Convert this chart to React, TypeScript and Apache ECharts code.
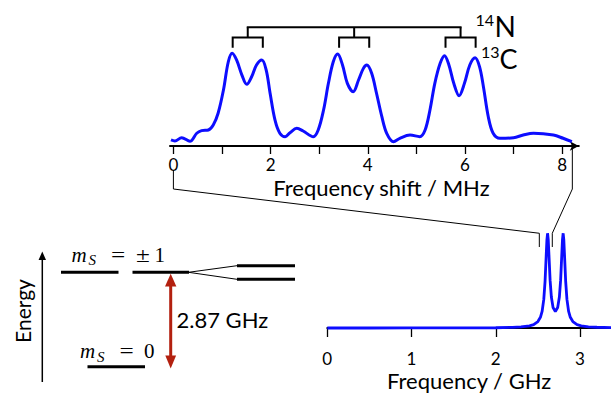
import React, { useEffect, useRef } from 'react';
import * as echarts from 'echarts';

// ---- Top panel: hyperfine-resolved spectrum (frequency shift, MHz) ----
const shiftMHz = [-0.05, 0.03, 0.17, 0.34, 0.48, 0.58, 0.72, 0.82, 0.92, 1.03, 1.13, 1.21, 1.30, 1.41, 1.51, 1.61, 1.71, 1.82, 1.91, 1.99, 2.09, 2.19, 2.30, 2.40, 2.54, 2.67, 2.88, 2.98, 3.09, 3.19, 3.29, 3.38, 3.48, 3.58, 3.70, 3.81, 3.91, 3.98, 4.08, 4.18, 4.29, 4.39, 4.53, 4.66, 4.87, 5.07, 5.18, 5.28, 5.38, 5.49, 5.58, 5.67, 5.77, 5.88, 5.99, 6.10, 6.21, 6.30, 6.38, 6.48, 6.58, 6.72, 7.00, 7.20, 7.41, 7.82, 8.02, 8.20];
const shiftSignal = [0.065, 0.054, 0.089, 0.051, 0.137, 0.165, 0.172, 0.226, 0.352, 0.602, 0.906, 0.997, 0.925, 0.763, 0.663, 0.745, 0.871, 0.925, 0.817, 0.567, 0.280, 0.137, 0.100, 0.143, 0.190, 0.161, 0.100, 0.172, 0.387, 0.674, 0.906, 0.989, 0.871, 0.674, 0.584, 0.710, 0.835, 0.871, 0.782, 0.567, 0.315, 0.137, 0.046, 0.083, 0.118, 0.100, 0.172, 0.387, 0.674, 0.889, 0.971, 0.871, 0.674, 0.541, 0.674, 0.871, 0.949, 0.853, 0.638, 0.315, 0.137, 0.083, 0.089, 0.118, 0.137, 0.118, 0.083, 0.046];
const shiftTicks = [0, 1, 2, 3, 4, 5, 6, 7, 8];
const shiftTickLabels = [0, 2, 4, 6, 8];

// hyperfine brackets: 14N triplet centres and 13C half splitting (MHz)
const nitrogenCenters = [1.53, 3.72, 5.91];
const carbonHalfSplit = 0.31;
const bracketLevels = [1.276, 1.167, 1.057]; // top bar, sub bar, sub ends

// ---- Bottom panel: ODMR spectrum (frequency, GHz) ----
const freqGHz = [0, 0.5, 1.0, 1.5, 2.0, 2.2, 2.3, 2.4, 2.45, 2.5, 2.53, 2.55, 2.57, 2.585, 2.6, 2.607, 2.615, 2.623, 2.63, 2.645, 2.66, 2.68, 2.7075, 2.735, 2.755, 2.77, 2.785, 2.792, 2.8, 2.808, 2.815, 2.83, 2.845, 2.865, 2.885, 2.915, 2.965, 3.015, 3.1, 3.2, 3.37];
const odmrSignal = [0, 0, 0.001, 0.001, 0.003, 0.007, 0.012, 0.023, 0.036, 0.068, 0.113, 0.175, 0.302, 0.489, 0.791, 0.929, 1.0, 0.933, 0.798, 0.505, 0.327, 0.216, 0.175, 0.216, 0.327, 0.505, 0.798, 0.933, 1.0, 0.929, 0.791, 0.489, 0.302, 0.175, 0.113, 0.068, 0.036, 0.023, 0.013, 0.008, 0.004];
const freqTicks = [0, 1, 2, 3];

// zoom window linking the two panels
const zoomWindowMHz = [0, 8.21];
const zoomWindowGHz = [2.517, 2.671];

const BLUE = '#0d0dff';
const RED = '#b3200f';
const SANS = 'Lato';
const SERIF = 'Liberation Serif';

export default function App() {
  const ref = useRef<HTMLDivElement>(null);

  useEffect(() => {
    if (!ref.current) return;
    const chart = echarts.init(ref.current, undefined, { renderer: 'svg' });

    const option: any = {
      animation: false,
      backgroundColor: '#fff',
      grid: [
        { left: 170, top: 20, width: 408.8, height: 126 },
        { left: 327.3, top: 220, right: 0, height: 115.5 },
      ],
      xAxis: [
        {
          type: 'value', gridIndex: 0, min: -0.07, max: 8.343,
          axisLine: { show: true, symbol: ['none', 'arrow'], symbolSize: [7, 9], lineStyle: { color: '#000', width: 2 } },
          axisTick: { show: true, customValues: shiftTicks, length: 8, lineStyle: { color: '#000', width: 1.3 } },
          axisLabel: { customValues: shiftTickLabels, color: '#000', fontSize: 17, lineHeight: 14, fontFamily: SANS, margin: 11.5 },
          splitLine: { show: false },
          name: 'Frequency shift / MHz', nameLocation: 'middle', nameGap: 31,
          nameTextStyle: { color: '#000', fontSize: 22, lineHeight: 20, fontFamily: SANS, padding: [0, 0, 0, 14] },
        },
        {
          type: 'value', gridIndex: 1, min: 0, max: 3.368,
          axisLine: { show: true, lineStyle: { color: '#000', width: 2 } },
          axisTick: { show: true, customValues: freqTicks, length: 9, lineStyle: { color: '#000', width: 1.3 } },
          axisLabel: { customValues: freqTicks, color: '#000', fontSize: 17, lineHeight: 14, fontFamily: SANS, margin: 15.5 },
          splitLine: { show: false },
          name: 'Frequency / GHz', nameLocation: 'middle', nameGap: 35,
          nameTextStyle: { color: '#000', fontSize: 22, lineHeight: 20, fontFamily: SANS },
        },
      ],
      yAxis: [
        { type: 'value', gridIndex: 0, min: 0, max: 1.355, show: false },
        { type: 'value', gridIndex: 1, min: -0.079, max: 1.14, show: false },
      ],
      series: [
        {
          type: 'line', xAxisIndex: 0, yAxisIndex: 0,
          data: shiftMHz.map((x, i) => [x, shiftSignal[i]]),
          showSymbol: false, smooth: 0.35,
          lineStyle: { color: BLUE, width: 3 },
          silent: true,
        },
        {
          type: 'line', xAxisIndex: 1, yAxisIndex: 1,
          data: freqGHz.map((x, i) => [x, odmrSignal[i]]),
          showSymbol: false, smooth: false,
          lineStyle: { color: BLUE, width: 2.8 },
          silent: true,
        },
        {
          type: 'custom', xAxisIndex: 0, yAxisIndex: 0, silent: true, clip: false,
          data: nitrogenCenters.map((c) => [c]),
          renderItem: (params: any, api: any) => {
            const c = api.value(0);
            const [vTop, vSub, vEnd] = bracketLevels;
            const a = api.coord([c - carbonHalfSplit, vEnd]);
            const b = api.coord([c - carbonHalfSplit, vSub]);
            const d = api.coord([c + carbonHalfSplit, vSub]);
            const e = api.coord([c + carbonHalfSplit, vEnd]);
            const s0 = api.coord([c, vSub]);
            const s1 = api.coord([c, vTop]);
            const st = { stroke: '#000', lineWidth: 2, fill: null };
            const children: any[] = [
              { type: 'polyline', shape: { points: [a, b, d, e] }, style: st },
              { type: 'line', shape: { x1: s0[0], y1: s0[1], x2: s1[0], y2: s1[1] }, style: st },
            ];
            if (params.dataIndex === 0) {
              const l = api.coord([nitrogenCenters[0], vTop]);
              const r = api.coord([nitrogenCenters[nitrogenCenters.length - 1], vTop]);
              children.push({ type: 'line', shape: { x1: l[0] - 1, y1: l[1], x2: r[0] + 1, y2: r[1] }, style: st });
            }
            return { type: 'group', children };
          },
        },
      ],
    };
    chart.setOption(option);

    const tp0 = chart.convertToPixel({ xAxisIndex: 0, yAxisIndex: 0 }, [zoomWindowMHz[0], 0]) as number[];
    const tp1 = chart.convertToPixel({ xAxisIndex: 0, yAxisIndex: 0 }, [zoomWindowMHz[1], 0]) as number[];
    const bA0 = chart.convertToPixel({ xAxisIndex: 1, yAxisIndex: 1 }, [zoomWindowGHz[0], 1.0]) as number[];
    const bB0 = chart.convertToPixel({ xAxisIndex: 1, yAxisIndex: 1 }, [zoomWindowGHz[0], 0.855]) as number[];
    const bA1 = chart.convertToPixel({ xAxisIndex: 1, yAxisIndex: 1 }, [zoomWindowGHz[1], 1.0]) as number[];
    const bB1 = chart.convertToPixel({ xAxisIndex: 1, yAxisIndex: 1 }, [zoomWindowGHz[1], 0.855]) as number[];

    const thin = { stroke: '#000', lineWidth: 1, fill: null };
    const thick = { stroke: '#000', lineWidth: 3 };
    const mathText = (text: string, x: number, y: number, size: number, italic: boolean, sx = 1) => ({
      type: 'text', x, y, scaleX: sx,
      style: { text, fill: '#000', fontSize: size, lineHeight: size, fontFamily: SERIF, fontStyle: italic ? 'italic' : 'normal', align: 'left', verticalAlign: 'middle' },
    });
    const isoText = (text: string, x: number, y: number, size: number, align: string) => ({
      type: 'text', x, y,
      style: { text, fill: '#000', fontSize: size, lineHeight: size, fontFamily: SANS, align, verticalAlign: 'middle' },
    });

    const graphic: any[] = [
      // connectors between panels
      { type: 'polyline', shape: { points: [[tp0[0], 170], [tp0[0], 189], [bA0[0], bA0[1]], [bB0[0], bB0[1]]] }, style: thin },
      { type: 'polyline', shape: { points: [[tp1[0], tp1[1] + 3], [tp1[0], 189], [bA1[0], bA1[1]], [bB1[0], bB1[1]]] }, style: thin },
      // isotope labels
      isoText('14', 494, 19.9, 16, 'right'),
      isoText('N', 494.5, 25.6, 28, 'left'),
      isoText('13', 499.5, 51.4, 16, 'right'),
      isoText('C', 499.5, 58.7, 27, 'left'),
      // energy axis
      { type: 'line', shape: { x1: 42.3, y1: 382, x2: 42.3, y2: 258 }, style: { stroke: '#000', lineWidth: 1.5 } },
      { type: 'polygon', shape: { points: [[42.3, 251.5], [38.6, 260], [46, 260]] }, style: { fill: '#000' } },
      { type: 'text', x: 22, y: 311, rotation: Math.PI / 2, style: { text: 'Energy', fill: '#000', fontSize: 21, fontFamily: SANS, align: 'center', verticalAlign: 'middle' } },
      // levels
      { type: 'line', shape: { x1: 61, y1: 272.3, x2: 118.5, y2: 272.3 }, style: thick },
      { type: 'line', shape: { x1: 132.5, y1: 272.3, x2: 189, y2: 272.3 }, style: thick },
      { type: 'line', shape: { x1: 188.5, y1: 272.3, x2: 237, y2: 265.7 }, style: thin },
      { type: 'line', shape: { x1: 188.5, y1: 272.3, x2: 237, y2: 279.3 }, style: thin },
      { type: 'line', shape: { x1: 237, y1: 265.7, x2: 295, y2: 265.7 }, style: thick },
      { type: 'line', shape: { x1: 237, y1: 279.3, x2: 295, y2: 279.3 }, style: thick },
      { type: 'line', shape: { x1: 87.5, y1: 366.7, x2: 145, y2: 366.7 }, style: thick },
      // level labels
      mathText('m', 71.5, 254.6, 21, true),
      mathText('S', 88.5, 260, 15, true),
      mathText('=', 111, 254.6, 21, false, 1.2),
      mathText('±', 136, 254.6, 21, false, 1.2),
      mathText('1', 154.5, 254.6, 21, false),
      mathText('m', 80, 351.1, 21, true),
      mathText('S', 97, 356.5, 15, true),
      mathText('=', 119.5, 351.1, 21, false, 1.2),
      mathText('0', 144, 351.1, 21, false),
      // transition arrow
      { type: 'line', shape: { x1: 170.7, y1: 284, x2: 170.7, y2: 357 }, style: { stroke: RED, lineWidth: 3 } },
      { type: 'polygon', shape: { points: [[170.7, 273.8], [165, 286.5], [176.4, 286.5]] }, style: { fill: RED } },
      { type: 'polygon', shape: { points: [[170.7, 368.5], [165.3, 355.5], [176.1, 355.5]] }, style: { fill: RED } },
      { type: 'text', x: 176.5, y: 319.5, style: { text: '2.87 GHz', fill: '#000', fontSize: 22, fontFamily: SANS, align: 'left', verticalAlign: 'middle' } },
    ];
    chart.setOption({ graphic });

    return () => chart.dispose();
  }, []);

  return <div ref={ref} style={{ position: 'fixed', left: 0, top: 0, width: 611, height: 394, background: '#fff' }} />;
}
